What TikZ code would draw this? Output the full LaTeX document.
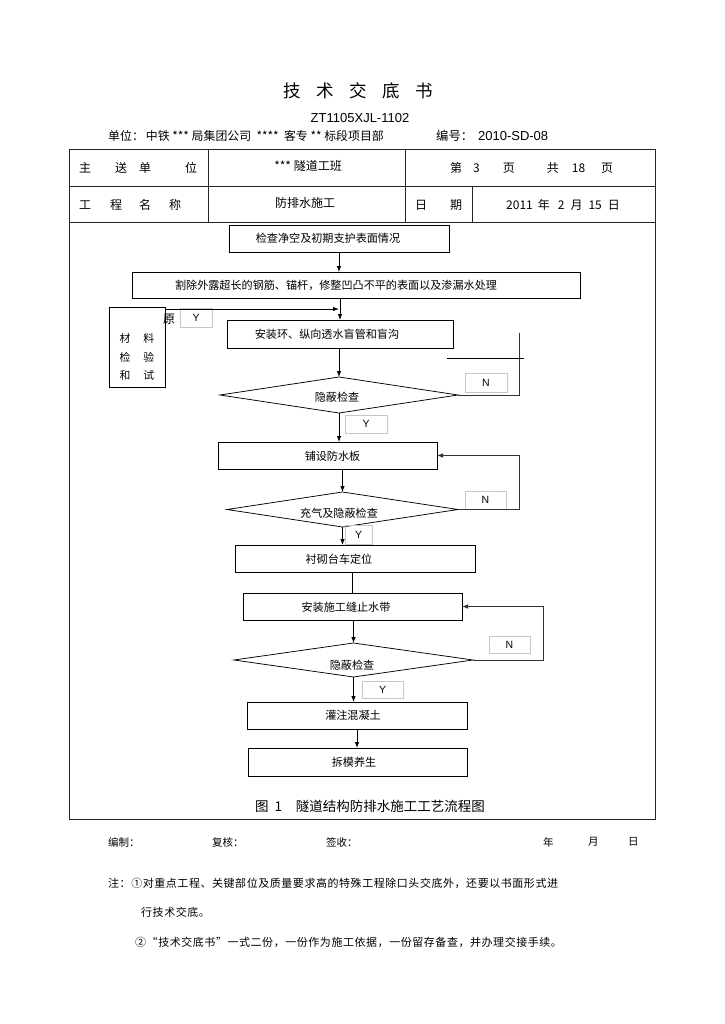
\documentclass[tikz,border=0pt]{standalone}
\usepackage{fontspec}
\setmainfont{Noto Sans CJK SC}
\newfontfamily\lat{Liberation Sans}
\newfontfamily\notefont[LetterSpace=5]{Noto Sans CJK SC}
\usetikzlibrary{arrows.meta,shapes.geometric}
\begin{document}
\begin{tikzpicture}[x=1pt,y=-1pt,
  tbl/.style={line width=0.9pt,black!85},
  cell/.style={inner sep=0pt,font=\fontsize{12}{14}\selectfont},
  fbox/.style={draw,line width=0.75pt,inner sep=0pt,outer sep=0pt},
  ftxt/.style={font=\fontsize{11.1}{12}\selectfont,inner sep=0pt},
  dia/.style={draw,diamond,line width=0.75pt,inner sep=0pt,outer sep=0pt},
  lbl/.style={draw=black!22,line width=0.6pt,inner sep=0pt,outer sep=0pt,font=\lat\fontsize{10.5}{12}\selectfont},
  arr/.style={-{Latex[length=6pt,width=4.6pt]},line width=1pt},
  loop/.style={line width=0.8pt,black!80},
  plain/.style={inner sep=0pt,anchor=west}]
\useasboundingbox (0,0) rectangle (724,1024);
\fill[white] (0,0) rectangle (724,1024);

% ---- header ----
\node[inner sep=0pt,font=\fontsize{17.5}{20}\selectfont] (title) at (358,91) {技\hspace{15.5pt}术\hspace{15.5pt}交\hspace{15.5pt}底\hspace{15.5pt}书};
\node[inner sep=0pt,font=\lat\fontsize{13}{15}\selectfont] (code) at (360,118) {ZT1105XJL-1102};
\node[plain,font=\fontsize{11.9}{13}\selectfont] (unit) at (108,136) {单位：\hspace{2pt}中铁 *** 局集团公司 \ **** \ 客专 ** 标段项目部};
\node[plain,font=\fontsize{12.3}{14}\selectfont] (num) at (436,136) {编号：\hspace{5pt}{\lat\fontsize{13}{14}\selectfont 2010-SD-08}};

% ---- table ----
\draw[tbl] (69,149) rectangle (655,819);
\draw[tbl] (69,186) -- (655,186);
\draw[tbl] (69,222) -- (655,222);
\draw[tbl] (208,149) -- (208,222);
\draw[tbl] (405,149) -- (405,222);
\draw[tbl] (472,186) -- (472,222);

\node[cell,anchor=west] (c11) at (79,168) {主\hspace{24pt}送\hspace{12pt}单\hspace{34pt}位};
\node[cell] (c12) at (308,166) {*** 隧道工班};
\node[cell,anchor=west] (c13) at (450,168) {第\hspace{11pt}3\hspace{23pt}页\hspace{32pt}共\hspace{13pt}18\hspace{16pt}页};
\node[cell,anchor=west] (c21) at (79,205) {工\hspace{19pt}程\hspace{17pt}名\hspace{18pt}称};
\node[cell] (c22) at (305,203) {防排水施工};
\node[cell,anchor=west] (c23) at (415,205) {日\hspace{23pt}期};
\node[cell,anchor=west] (c24) at (506,205) {2011\hspace{5pt}年\hspace{8pt}2\hspace{6pt}月\hspace{6pt}15\hspace{6pt}日};

% ---- flowchart ----
\node[fbox,minimum width=220pt,minimum height=27pt,label={[ftxt,xshift=-11pt]center:检查净空及初期支护表面情况}] (b1) at (339,238.5) {};
\node[fbox,minimum width=448pt,minimum height=26pt,label={[ftxt,xshift=-20pt]center:割除外露超长的钢筋、锚杆，修整凹凸不平的表面以及渗漏水处理}] (b2) at (356,285) {};
\node[fbox,minimum width=226pt,minimum height=28pt,label={[ftxt,xshift=-13pt]center:安装环、纵向透水盲管和盲沟}] (b3) at (340,334) {};
\node[dia,minimum width=238pt,minimum height=36pt,aspect=6.6,label={[ftxt,xshift=-2pt,yshift=-2pt]center:隐蔽检查}] (d1) at (339,395) {};
\node[fbox,minimum width=219pt,minimum height=27pt,label={[ftxt,xshift=5pt,yshift=-1pt]center:铺设防水板}] (b4) at (327.5,455.5) {};
\node[dia,minimum width=231pt,minimum height=35pt,aspect=6.6,label={[ftxt,xshift=-3.5pt,yshift=-3.5pt]center:充气及隐蔽检查}] (d2) at (342.5,509.5) {};
\node[fbox,minimum width=240pt,minimum height=27pt,label={[ftxt,xshift=-16pt,yshift=-1pt]center:衬砌台车定位}] (b5) at (355,558.5) {};
\node[fbox,minimum width=219pt,minimum height=27pt,label={[ftxt,xshift=-6.5pt,yshift=-1pt]center:安装施工缝止水带}] (b6) at (352.5,606.5) {};
\node[dia,minimum width=239pt,minimum height=34pt,aspect=7,label={[ftxt,xshift=-1.5pt,yshift=-5pt]center:隐蔽检查}] (d3) at (353.5,660) {};
\node[fbox,minimum width=220pt,minimum height=27pt,label={[ftxt,xshift=-4pt]center:灌注混凝土}] (b7) at (357,715.5) {};
\node[fbox,minimum width=219pt,minimum height=28pt,label={[ftxt,xshift=-3.5pt]center:拆模养生}] (b8) at (357.5,762) {};

% left box
\node[fbox,minimum width=56pt,minimum height=80pt,label={[ftxt,align=center,yshift=-10pt,font=\fontsize{10.8}{18.5}\selectfont]center:材\hspace{13pt}料\\检\hspace{13pt}验\\和\hspace{13pt}试}] (lb) at (137,347) {};
\node[inner sep=0pt,font=\fontsize{12}{14}\selectfont] (yuan) at (169,319) {原};

% labels
\node[lbl,minimum width=32pt,minimum height=19pt] (y0) at (196,317.5) {Y};
\node[lbl,minimum width=42pt,minimum height=19pt] (n1) at (486,383) {N};
\node[lbl,minimum width=42pt,minimum height=18pt] (y1) at (366,424) {Y};
\node[lbl,minimum width=41pt,minimum height=18pt] (n2) at (485.5,500) {N};
\node[lbl,minimum width=27pt,minimum height=19pt] (y2) at (358.5,535) {Y};
\node[lbl,minimum width=41pt,minimum height=17pt] (n3) at (509.5,644.5) {N};
\node[lbl,minimum width=41pt,minimum height=17pt] (y3) at (382.5,689.5) {Y};

% main arrows
\draw[arr] (b1.south) -- (b1.south |- b2.north);
\draw[arr] (b3.north |- b2.south) -- (b3.north);
\draw[arr] (d1.north |- b3.south) -- (d1.north);
\draw[arr] (d1.south) -- (d1.south |- b4.north);
\draw[arr] (d2.north |- b4.south) -- (d2.north);
\draw[arr] (d2.south) -- (d2.south |- b5.north);
\draw[line width=0.9pt] (b6.north |- b5.south) -- (b6.north);
\draw[arr] (d3.north |- b6.south) -- (d3.north);
\draw[arr] (d3.south) -- (d3.south |- b7.north);
\draw[arr] (b7.south) -- (b7.south |- b8.north);

% material arrow
\coordinate (hs) at (166,309);
\coordinate (he) at (339,309);
\draw[arr] (hs) -- (he);

% N loop 1 (open lines)
\coordinate (n1a) at (519,395);
\coordinate (n1b) at (519,333);
\draw[loop] (d1.east) -- (n1a) -- (n1b);
\coordinate (s1) at (447,358);
\coordinate (s2) at (524,358);
\draw[line width=1pt] (s1) -- (s2);

% N loop 2
\coordinate (c2) at (519,0);
\draw[loop,-{Latex[length=6pt,width=4.6pt]}] (d2.east) -- (d2.east -| c2) |- (b4.east);
% N loop 3
\coordinate (c3) at (543,0);
\draw[loop,-{Latex[length=6pt,width=4.6pt]}] (d3.east) -- (d3.east -| c3) |- (b6.east);

% caption
\node[inner sep=0pt,font=\fontsize{13.5}{15}\selectfont] (cap) at (370,806) {图\hspace{6pt}1\hspace{14pt}隧道结构防排水施工工艺流程图};

% signatures
\node[plain,font=\fontsize{10.5}{12}\selectfont] (s_a) at (108,842) {编制：};
\node[plain,font=\fontsize{10.5}{12}\selectfont] (s_b) at (212,842) {复核：};
\node[plain,font=\fontsize{10.5}{12}\selectfont] (s_c) at (326,842) {签收：};
\node[plain,font=\fontsize{10.5}{12}\selectfont] (s_d) at (543,842) {年};
\node[plain,font=\fontsize{10.5}{12}\selectfont] (s_e) at (588,842) {月};
\node[plain,font=\fontsize{10.5}{12}\selectfont] (s_f) at (628,842) {日};

% notes
\node[plain,font=\notefont\fontsize{11}{13}\selectfont] (note1) at (108,883) {注：①对重点工程、关键部位及质量要求高的特殊工程除口头交底外，还要以书面形式进};
\node[plain,font=\notefont\fontsize{11}{13}\selectfont] (note2) at (141,912) {行技术交底。};
\node[plain,font=\notefont\fontsize{11}{13}\selectfont] (note3) at (135,942) {②“技术交底书”一式二份，一份作为施工依据，一份留存备查，并办理交接手续。};
\end{tikzpicture}
\end{document}
